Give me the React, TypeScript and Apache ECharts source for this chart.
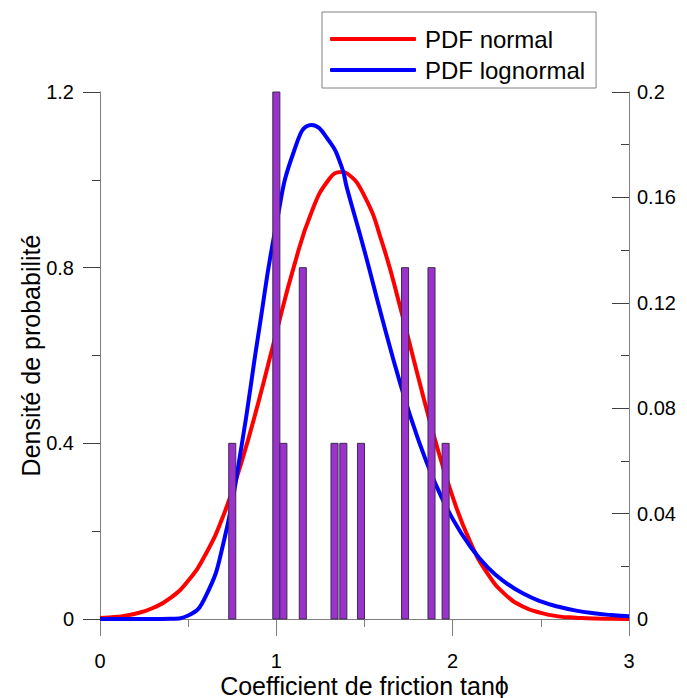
import React, { useEffect, useRef } from "react";
import * as echarts from "echarts";

// Histogram data: bar centres (tanϕ) and counts
const barCenters = [0.75, 1.0, 1.04, 1.15, 1.33, 1.38, 1.48, 1.73, 1.88, 1.96];
const barCounts = [1, 3, 1, 2, 1, 1, 1, 2, 2, 1];
const sampleSize = 15;
const binWidth = 0.04;

// x positions at which the PDF curves were read
const curveX = [0, 0.1, 0.2, 0.3, 0.4, 0.5, 0.6, 0.7, 0.8, 0.9, 1.0, 1.1, 1.2, 1.3, 1.37, 1.4, 1.5, 1.6, 1.7, 1.8, 1.9, 2.0, 2.1, 2.2, 2.3, 2.4, 2.5, 2.6, 2.7, 2.8, 2.9, 3.0];

// PDF normal
const normalY = [0.002, 0.005, 0.012, 0.025, 0.048, 0.087, 0.148, 0.236, 0.354, 0.496, 0.652, 0.803, 0.927, 1.002, 1.018, 1.015, 0.963, 0.857, 0.714, 0.558, 0.408, 0.278, 0.175, 0.102, 0.055, 0.028, 0.014, 0.006, 0.003, 0.001, 0.0005, 0.0002];

// PDF lognormal
const lognormalY = [0, 0, 0, 0, 0.0005, 0.008, 0.052, 0.173, 0.387, 0.653, 0.899, 1.065, 1.125, 1.088, 1.03, 0.982, 0.838, 0.685, 0.54, 0.414, 0.31, 0.228, 0.165, 0.117, 0.083, 0.058, 0.04, 0.028, 0.019, 0.013, 0.009, 0.006];

const FONT = "Liberation Sans, Arial, sans-serif";

export default function App() {
  const ref = useRef<HTMLDivElement>(null);
  useEffect(() => {
    document.body.style.margin = "0";
    if (!ref.current) return;
    const chart = echarts.init(ref.current, null, { renderer: "svg" });
    const barData = barCenters.map((c, i) => [c, barCounts[i] / sampleSize]);
    const normalData = curveX.map((x, i) => [x, normalY[i]]);
    const lognormalData = curveX.map((x, i) => [x, lognormalY[i]]);
    const axisLineStyle = { color: "#808080", width: 1 };
    chart.setOption({
      animation: false,
      textStyle: { fontFamily: FONT },
      grid: { left: 100, right: 58, top: 92, bottom: 79, containLabel: false, outerBoundsMode: "none" },
      legend: {
        orient: "vertical",
        left: 322,
        top: 12,
        width: 274,
        padding: [15, 11, 6, 8],
        itemGap: 7,
        itemWidth: 86,
        itemHeight: 4,
        borderColor: "#808080",
        borderWidth: 1,
        icon: "roundRect",
        textStyle: { fontSize: 24, color: "#000", fontFamily: FONT, padding: [0, 0, 0, 4] },
        data: ["PDF normal", "PDF lognormal"],
      },
      xAxis: {
        type: "value",
        min: 0,
        max: 3,
        interval: 1,
        name: "Coefficient de friction tanϕ",
        nameLocation: "middle",
        nameGap: 54,
        nameMoveOverlap: false,
        nameTextStyle: { fontSize: 25, lineHeight: 25, color: "#000", fontFamily: FONT },
        axisLine: { show: true, lineStyle: axisLineStyle },
        axisTick: { show: true, length: 17, lineStyle: { color: "#808080" } },
        minorTick: { show: true, splitNumber: 2, length: 8, lineStyle: { color: "#808080" } },
        splitLine: { show: false },
        axisLabel: { fontSize: 20, color: "#000", margin: 32, fontFamily: FONT },
      },
      yAxis: [
        {
          type: "value",
          min: 0,
          max: 1.2,
          interval: 0.4,
          position: "left",
          name: "Densité de probabilité",
          nameLocation: "middle",
          nameGap: 57,
          nameMoveOverlap: false,
          nameTextStyle: { fontSize: 25, lineHeight: 25, color: "#000", fontFamily: FONT },
          axisLine: { show: true, lineStyle: axisLineStyle },
          axisTick: { show: true, length: 17, lineStyle: { color: "#404040" } },
          minorTick: { show: true, splitNumber: 2, length: 8, lineStyle: { color: "#404040" } },
          splitLine: { show: false },
          axisLabel: { fontSize: 20, color: "#000", margin: 26, fontFamily: FONT },
        },
        {
          type: "value",
          min: 0,
          max: 0.2,
          interval: 0.04,
          position: "right",
          axisLine: { show: true, lineStyle: axisLineStyle },
          axisTick: { show: true, inside: true, length: 17, lineStyle: { color: "#404040" } },
          minorTick: { show: true, splitNumber: 2, length: 8, lineStyle: { color: "#404040" } },
          splitLine: { show: false },
          axisLabel: { fontSize: 20, color: "#000", margin: 8, fontFamily: FONT },
        },
      ],
      series: [
        {
          name: "PDF normal",
          type: "line",
          data: normalData,
          yAxisIndex: 0,
          smooth: 0.5,
          showSymbol: false,
          symbol: "none",
          lineStyle: { color: "#ff0000", width: 4 },
          itemStyle: { color: "#ff0000" },
          z: 2,
        },
        {
          name: "PDF lognormal",
          type: "line",
          data: lognormalData,
          yAxisIndex: 0,
          smooth: 0.5,
          showSymbol: false,
          symbol: "none",
          lineStyle: { color: "#0000ff", width: 4 },
          itemStyle: { color: "#0000ff" },
          z: 3,
        },
        {
          name: "Fréquence",
          type: "custom",
          yAxisIndex: 1,
          data: barData,
          z: 5,
          renderItem: (params: any, api: any) => {
            const x = api.value(0);
            const y = api.value(1);
            const p1 = api.coord([x - binWidth / 2, y]);
            const p2 = api.coord([x + binWidth / 2, 0]);
            return {
              type: "rect",
              shape: { x: p1[0], y: p1[1], width: p2[0] - p1[0], height: p2[1] - p1[1] },
              style: { fill: "#9933cc", stroke: "#3c2c4c", lineWidth: 1 },
            };
          },
        },
      ],
    });
    return () => chart.dispose();
  }, []);
  return <div ref={ref} style={{ width: 687, height: 698, overflow: "hidden" }} />;
}
